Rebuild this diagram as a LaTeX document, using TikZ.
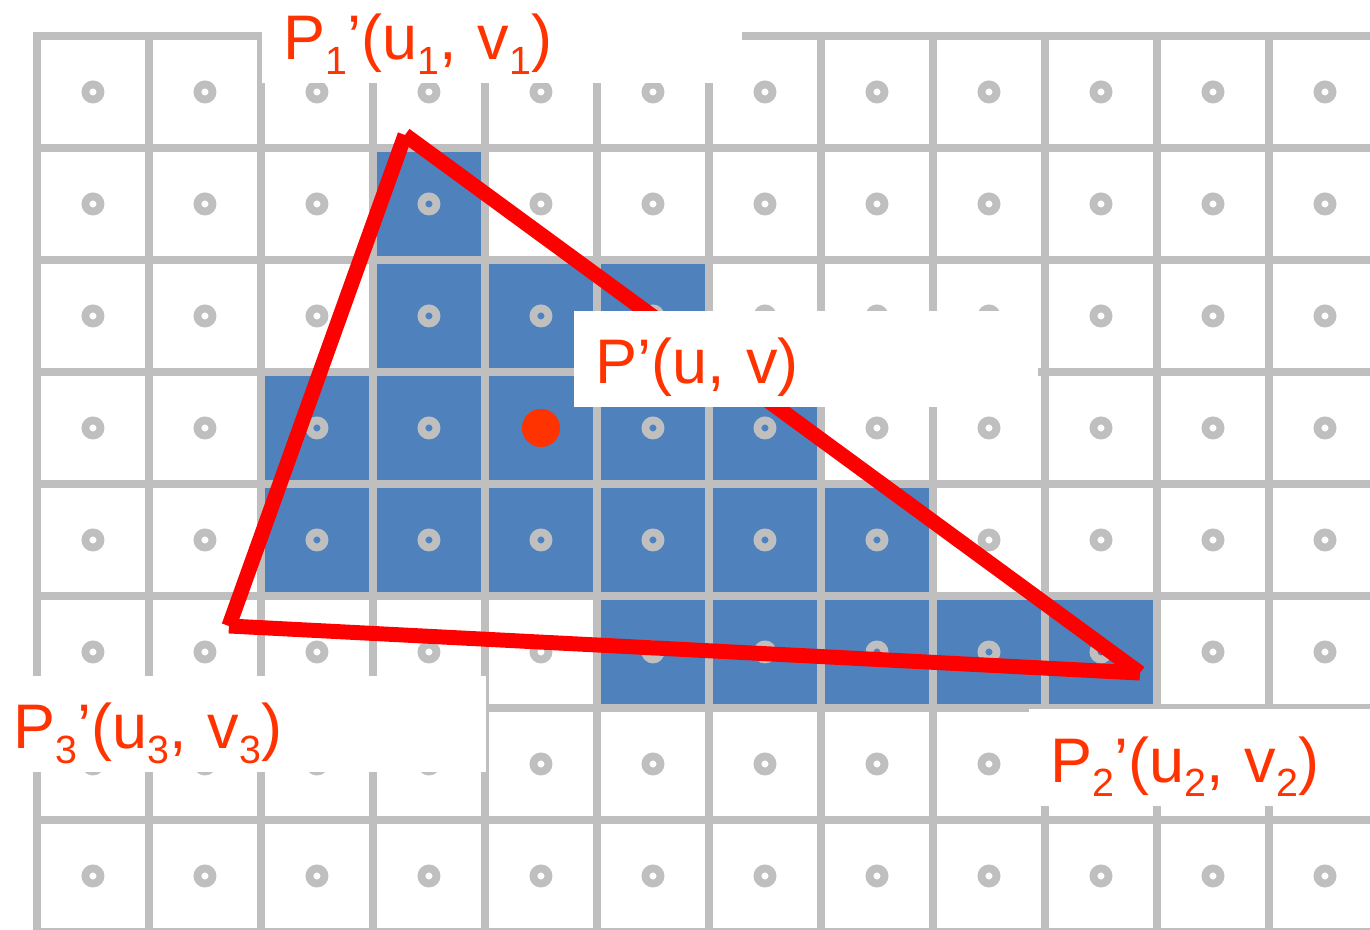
\documentclass[tikz,border=0pt]{standalone}
\usepackage{fontspec}
\setmainfont{Liberation Sans}

\definecolor{gridgray}{RGB}{191,191,191}
\definecolor{cellblue}{RGB}{79,129,189}
\definecolor{linered}{RGB}{255,0,0}
\definecolor{textred}{RGB}{255,51,0}

\newcommand{\lowsub}[1]{\raisebox{-3.8pt}{\fontsize{10}{10}\selectfont #1}}

\begin{document}
\begin{tikzpicture}[
    gridline/.style={draw=gridgray, line width=2pt},
    edge/.style={draw=linered, line width=3.8pt},
    lbl/.style={fill=white, text=textred, font=\fontsize{16}{19}\selectfont,
        anchor=base west, align=left, inner xsep=0.196cm, inner ysep=0pt,
        text height=0.65cm, text depth=0.21cm}]
    \clip (-0.330,0.321) rectangle (11.902,-7.982);

    % Cells covered by the triangle (row/first/last column)
    \foreach \r/\a/\b in {1/3/3, 2/3/5, 3/2/6, 4/2/7, 5/5/9}
        \foreach \c in {\a,...,\b}
            \fill[cellblue] (\c,-\r) rectangle ++(1,-1);

    % Pixel grid and pixel centres
    \draw[gridline, line cap=rect] (0,0) grid (12.5,-8.5);
    \foreach \c in {0,...,11}
        \foreach \r in {0,...,7}
            \draw[gridline] (\c+0.5,-\r-0.5) circle (0.067);

    % Define Coordinates
    \coordinate (P1) at (3.286,-0.884);
    \coordinate (P2) at (9.848,-5.688);
    \coordinate (P3) at (1.714,-5.268);
    \coordinate (P) at (4.5,-3.5);

    % Triangle edges
    \draw[edge] (P1) -- (P2);
    \draw[edge] (P2) -- (P3);
    \draw[edge] (P3) -- (P1);

    % Sample point
    \fill[textred] (P) circle (0.17);

    % Labels
    \node[lbl, text width=3.893cm] (lP1) at (2.0,-0.214) {P\lowsub{1}’(u\lowsub{1}, v\lowsub{1})};
    \node[lbl, text width=3.750cm] (lP) at (4.786,-3.107) {P’(u, v)};
    \node[lbl, text width=4.018cm] (lP3) at (-0.411,-6.366) {P\lowsub{3}’(u\lowsub{3}, v\lowsub{3})};
    \node[lbl, text width=2.928cm] (lP2) at (8.848,-6.661) {P\lowsub{2}’(u\lowsub{2}, v\lowsub{2})};
\end{tikzpicture}
\end{document}
